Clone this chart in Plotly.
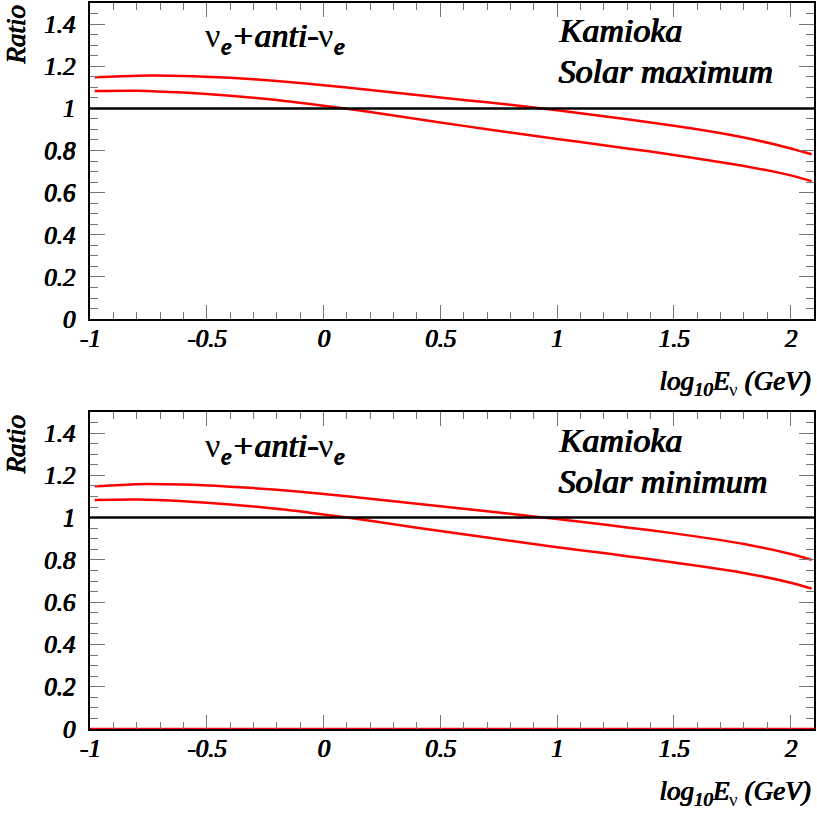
import plotly.graph_objects as go

# ---------------- data ----------------
x_vals = [-0.98, -0.8, -0.6, -0.4, -0.2, 0.0, 0.2, 0.4, 0.6, 0.8, 1.0, 1.2, 1.4, 1.6, 1.8, 2.0, 2.09]

max_upper = [1.148, 1.155, 1.154, 1.145, 1.130, 1.110, 1.087, 1.064, 1.040, 1.017, 0.991, 0.963, 0.933, 0.901, 0.862, 0.810, 0.782]
max_lower = [1.083, 1.084, 1.075, 1.060, 1.040, 1.013, 0.983, 0.950, 0.917, 0.885, 0.855, 0.825, 0.795, 0.762, 0.727, 0.682, 0.655]

min_upper = [1.148, 1.158, 1.156, 1.146, 1.132, 1.112, 1.089, 1.065, 1.042, 1.018, 0.993, 0.967, 0.940, 0.910, 0.875, 0.828, 0.800]
min_lower = [1.083, 1.085, 1.077, 1.062, 1.042, 1.015, 0.985, 0.952, 0.921, 0.890, 0.860, 0.832, 0.803, 0.772, 0.738, 0.692, 0.664]

min_base_x = [-1.0, 2.1]
min_base_y = [0.0, 0.0]

ref_level = 1.0

x_tickvals = [-1, -0.5, 0, 0.5, 1, 1.5, 2]
x_ticktext = ["-1", "-0.5", "0", "0.5", "1", "1.5", "2"]
y_tickvals = [0, 0.2, 0.4, 0.6, 0.8, 1.0, 1.2, 1.4]
y_ticktext = ["0", "0.2", "0.4", "0.6", "0.8", "1", "1.2", "1.4"]

panel_site = "Kamioka"
panel_top_label = "Solar maximum"
panel_bot_label = "Solar minimum"

# ---------------- layout helpers ----------------
W, H = 817, 817
ML, MR, MT, MB = 90, 3, 1, 88
PW, PH = W - ML - MR, H - MT - MB


def px_x(px):
    return (px - ML) / PW


def px_y(py):
    return (H - MB - py) / PH


FONT = "Liberation Serif"
RED = "#ff0000"
SH_S = "0.5px 0 0 black, 1px 0 0 black, 0.5px 0.3px 0 black"
SH_L = "0.6px 0 0 black, 1.2px 0 0 black, 0.6px 0.4px 0 black"

fig = go.Figure()

for xa, ya, up, lo in (("x", "y", max_upper, max_lower), ("x2", "y2", min_upper, min_lower)):
    for ser in (up, lo):
        fig.add_trace(go.Scatter(x=x_vals, y=ser, mode="lines", xaxis=xa, yaxis=ya,
                                 line=dict(color=RED, width=2.5, shape="spline", smoothing=0.6),
                                 showlegend=False, hoverinfo="skip"))

fig.add_trace(go.Scatter(x=min_base_x, y=min_base_y, mode="lines", xaxis="x2", yaxis="y2",
                         line=dict(color=RED, width=2.5), showlegend=False, cliponaxis=False,
                         hoverinfo="skip"))

tickfont = dict(family=FONT, size=25, color="black", style="italic", shadow=SH_S)

xaxis_common = dict(range=[-1, 2.1], tickvals=x_tickvals, ticktext=x_ticktext,
                    ticks="inside", ticklen=14, tickwidth=1, tickcolor="#777777",
                    minor=dict(dtick=0.1, tick0=0, ticks="inside", ticklen=7, tickwidth=1,
                               tickcolor="#777777"),
                    showline=True, linecolor="black", linewidth=2, mirror="ticks",
                    showgrid=False, zeroline=False, tickfont=tickfont,
                    ticklabelstandoff=-4)
yaxis_common = dict(range=[0, 1.5], tickvals=y_tickvals, ticktext=y_ticktext,
                    ticks="inside", ticklen=15, tickwidth=1, tickcolor="#777777",
                    minor=dict(dtick=0.05, tick0=0, ticks="inside", ticklen=8, tickwidth=1,
                               tickcolor="#777777"),
                    showline=True, linecolor="black", linewidth=2, mirror="ticks",
                    showgrid=False, zeroline=False, tickfont=tickfont,
                    ticklabelstandoff=8)

top_dom = [px_y(318), 1.0]
bot_dom = [0.0, px_y(411)]

fig.update_layout(
    width=W, height=H,
    margin=dict(l=ML, r=MR, t=MT, b=MB),
    paper_bgcolor="white", plot_bgcolor="white",
    xaxis=dict(anchor="y", domain=[0, 1], **xaxis_common),
    yaxis=dict(anchor="x", domain=top_dom, **yaxis_common),
    xaxis2=dict(anchor="y2", domain=[0, 1], **xaxis_common),
    yaxis2=dict(anchor="x2", domain=bot_dom, **yaxis_common),
)

for xr, yr in (("x", "y"), ("x2", "y2")):
    fig.add_shape(type="line", xref=f"{xr} domain", yref=yr, x0=0, x1=1, y0=ref_level, y1=ref_level,
                  line=dict(color="black", width=2.5), layer="above")

labfont = dict(family=FONT, size=34, color="black", style="italic", shadow=SH_L)
ttlfont = dict(family=FONT, size=27, color="black", style="italic", shadow=SH_S)
nu = '<span style="font-style:normal;text-shadow:none">ν</span>'
flavour = f"{nu}<sub>e</sub>+anti-{nu}<sub>e</sub>"
xtitle = f"log<sub>10</sub>E<sub>{nu}</sub> (GeV)"

for off, lab in ((0, panel_top_label), (411, panel_bot_label)):
    fig.add_annotation(xref="paper", yref="paper", x=px_x(16), y=px_y(off + 1),
                       text="Ratio", textangle=-90, showarrow=False,
                       xanchor="center", yanchor="top", font=ttlfont)
    fig.add_annotation(xref="paper", yref="paper", x=px_x(203), y=px_y(off + 36),
                       text=flavour, showarrow=False, xanchor="left", yanchor="middle",
                       font=labfont)
    fig.add_annotation(xref="paper", yref="paper", x=px_x(556), y=px_y(off + 29),
                       text=panel_site, showarrow=False, xanchor="left", yanchor="middle",
                       font=labfont)
    fig.add_annotation(xref="paper", yref="paper", x=px_x(556), y=px_y(off + 70),
                       text=lab, showarrow=False, xanchor="left", yanchor="middle",
                       font=labfont)
    fig.add_annotation(xref="paper", yref="paper", x=px_x(812), y=px_y(off + 382),
                       text=xtitle, showarrow=False, xanchor="right", yanchor="middle",
                       font=ttlfont)

fig.write_html("out.html", config={"displayModeBar": False},
               post_script="document.body.style.margin='0';document.body.style.overflow='hidden';")
